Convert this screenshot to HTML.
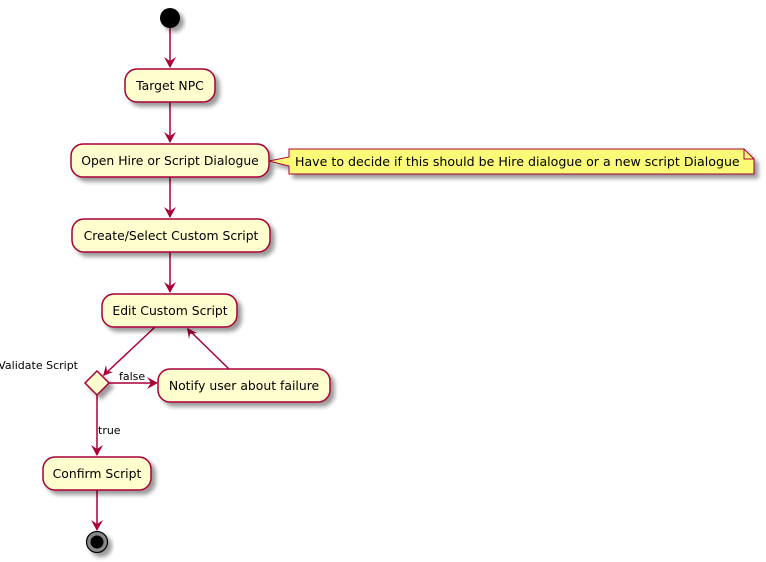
<!DOCTYPE html>
<html><head><meta charset="utf-8"><style>
html,body{margin:0;padding:0;background:#fff;}
svg{display:block;}
text{font-family:"DejaVu Sans","Liberation Sans",sans-serif;font-size:12.4px;fill:#000;}
</style></head><body>
<svg width="766" height="562" viewBox="0 0 766 562" xmlns="http://www.w3.org/2000/svg">
<defs>
<filter id="sh" x="-20%" y="-20%" width="150%" height="160%">
<feGaussianBlur in="SourceAlpha" stdDeviation="2"/>
<feOffset dx="4" dy="4"/>
<feComponentTransfer><feFuncA type="linear" slope="0.4"/></feComponentTransfer>
<feMerge><feMergeNode/><feMergeNode in="SourceGraphic"/></feMerge>
</filter>
</defs>
<g stroke="#A80036" stroke-width="1.5" fill="none">
<line x1="170" y1="28" x2="170" y2="67"/>
<line x1="170" y1="102" x2="170" y2="142"/>
<line x1="170" y1="177" x2="170" y2="217"/>
<line x1="170" y1="252" x2="170" y2="292"/>
<line x1="155" y1="327" x2="104" y2="375"/>
<line x1="109" y1="383" x2="156" y2="383"/>
<line x1="229" y1="369" x2="188" y2="329"/>
<line x1="97" y1="395" x2="97" y2="455"/>
<line x1="97" y1="490" x2="97" y2="529"/>
</g>
<g fill="#A80036">
<polygon points="170,68 164,57 170,61 176,57"/>
<polygon points="170,143 164,132 170,136 176,132"/>
<polygon points="170,218 164,207 170,211 176,207"/>
<polygon points="170,293 164,282 170,286 176,282"/>
<polygon points="103,376 106,365 107,371 113,372"/>
<polygon points="158,383 147,377 151,383 147,389"/>
<polygon points="187,328 189,339 190,334 197,333"/>
<polygon points="97,456 91,445 97,449 103,445"/>
<polygon points="97,531 91,520 97,524 103,520"/>
</g>
<circle cx="170" cy="18" r="10" fill="#000" filter="url(#sh)"/>
<g fill="#FEFECE" stroke="#A80036" stroke-width="1.5" filter="url(#sh)">
<rect x="125" y="69" width="90" height="33" rx="12"/>
<rect x="71" y="144" width="198" height="33" rx="12"/>
<rect x="72" y="219" width="198" height="33" rx="12"/>
<rect x="102" y="294" width="135" height="33" rx="12"/>
<rect x="158" y="369" width="172" height="33" rx="12"/>
<rect x="43" y="457" width="108" height="33" rx="12"/>
<polygon points="97,371 109,383 97,395 85,383"/>
</g>
<path d="M289,149 L744,149 L754,159 L754,174 L289,174 L289,166 L269,161 L289,157 Z" fill="#FBFB77" stroke="#A80036" stroke-width="1" filter="url(#sh)"/>
<path d="M744,149 L744,159 L754,159" fill="none" stroke="#A80036" stroke-width="1"/>
<text x="170" y="90" text-anchor="middle">Target NPC</text>
<text x="170" y="165" text-anchor="middle">Open Hire or Script Dialogue</text>
<text x="171" y="240" text-anchor="middle">Create/Select Custom Script</text>
<text x="170" y="315" text-anchor="middle">Edit Custom Script</text>
<text x="244" y="390" text-anchor="middle">Notify user about failure</text>
<text x="97" y="478" text-anchor="middle">Confirm Script</text>
<text x="295" y="166" style="font-size:12.6px">Have to decide if this should be Hire dialogue or a new script Dialogue</text>
<text x="78" y="369" text-anchor="end" style="font-size:11px">Validate Script</text>
<text x="119" y="380" style="font-size:11px">false</text>
<text x="98" y="434" style="font-size:11px">true</text>
<circle cx="97" cy="542" r="10.5" fill="#888" stroke="#000" stroke-width="1.2" filter="url(#sh)"/>
<circle cx="97" cy="542" r="6.5" fill="#000"/>
</svg>
</body></html>
